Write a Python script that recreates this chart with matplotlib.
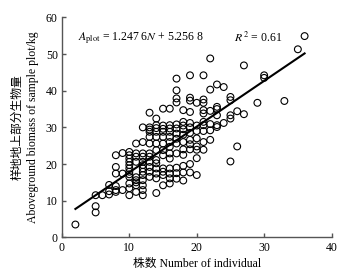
import matplotlib
matplotlib.use("Agg")
from matplotlib import pyplot as plt
import numpy as np

# values, grouped by number of individuals
cols = {
    2: [3.5],
    5: [6.8, 8.5, 11.5],
    6: [11.5],
    7: [11.7, 12.6, 14.3],
    8: [12.4, 12.9, 14.0, 17.4, 19.2, 22.4],
    9: [12.9, 17.4, 23.0],
    10: [11.5, 13.4, 14.7, 16.5, 17.2, 17.9, 18.8, 19.7, 20.6, 21.5, 22.4, 23.3],
    11: [12.4, 14.2, 15.0, 15.6, 16.4, 20.6, 22.0, 22.9, 25.6],
    12: [11.5, 12.9, 14.2, 15.6, 17.0, 17.9, 18.8, 19.7, 20.6, 22.0, 22.9, 26.0, 30.0],
    13: [16.5, 17.9, 19.2, 20.6, 22.0, 22.9, 25.6, 27.4, 28.8, 29.4, 30.0, 34.0],
    14: [12.1, 16.1, 17.4, 18.8, 20.2, 21.1, 23.8, 25.6, 27.4, 28.8, 29.8, 30.6, 32.4],
    15: [14.2, 17.0, 17.9, 18.8, 22.4, 23.8, 25.6, 27.4, 28.8, 29.6, 30.5, 35.1],
    16: [14.7, 16.1, 17.4, 18.8, 21.5, 22.9, 24.7, 26.0, 27.4, 28.8, 29.7, 30.6, 35.1],
    17: [16.0, 17.5, 19.0, 22.9, 25.6, 26.9, 28.3, 29.7, 30.8, 36.8, 37.9, 40.1, 43.3],
    18: [15.5, 17.7, 19.5, 22.5, 24.0, 26.0, 28.0, 29.5, 30.5, 31.5, 34.7],
    19: [17.7, 20.0, 24.0, 25.4, 26.6, 28.5, 30.0, 31.2, 34.2, 37.3, 38.1, 44.2],
    20: [17.0, 21.6, 23.9, 24.8, 27.0, 29.0, 30.5, 36.7],
    21: [23.9, 26.0, 29.0, 30.6, 31.5, 33.8, 34.7, 36.7, 37.6, 44.2],
    22: [26.6, 29.2, 30.9, 34.5, 40.3, 48.8],
    23: [30.1, 30.6, 33.3, 35.0, 35.6, 41.7],
    24: [31.2, 41.0],
    25: [20.7, 32.4, 33.3, 37.4, 38.3],
    26: [24.8, 34.4],
    27: [33.6, 46.9],
    29: [36.7],
    30: [43.5, 44.2],
    33: [37.2],
    35: [51.3],
    36: [54.9],
}
nInd = [n for n, vals in cols.items() for v in vals]
biomass = [v for n, vals in cols.items() for v in vals]

slope = 1.2476
intercept = 5.2568
fitRange = [2, 36]

xTicks = [0, 10, 20, 30, 40]
yTicks = [0, 10, 20, 30, 40, 50, 60]

plt.rcParams["font.family"] = ["Liberation Serif", "Noto Sans CJK SC"]
plt.rcParams["mathtext.fontset"] = "stix"
plt.rcParams["font.size"] = 8.5

fig = plt.figure(figsize=(3.6, 2.76), dpi=100)
ax = fig.add_axes([0.172, 0.140, 0.749, 0.797])

ax.scatter(nInd, biomass, s=24, facecolors="none", edgecolors="black", linewidths=0.8, zorder=3)
fx = np.array(fitRange, dtype=float)
ax.plot(fx, slope * fx + intercept, color="black", linewidth=1.5, zorder=4)

ax.set_xlim(0, 40)
ax.set_ylim(0, 60)
ax.set_xticks(xTicks)
ax.set_yticks(yTicks)
for side in ["top", "right"]:
    ax.spines[side].set_visible(False)
for side in ["left", "bottom"]:
    ax.spines[side].set_color("#555555")
    ax.spines[side].set_linewidth(1.0)
ax.tick_params(direction="in", length=3, width=1.0, color="#555555", labelsize=8.5, pad=3)

ax.text(2.4, 54.3, r"$A_{\rm plot}$ = 1.247 6$N$ + 5.256 8", fontsize=8.5, va="center", ha="left")
ax.text(25.6, 54.3, r"$R^{\,2}$ = 0.61", fontsize=8.5, va="center", ha="left")

ax.set_xlabel("株数 Number of individual", fontsize=8.5, labelpad=3)
ax.set_ylabel("样地地上部分生物量\nAboveground biomass of sample plot/kg", fontsize=8.5, labelpad=5, linespacing=1.4)

fig.savefig("out.png", dpi=100, facecolor="white")
